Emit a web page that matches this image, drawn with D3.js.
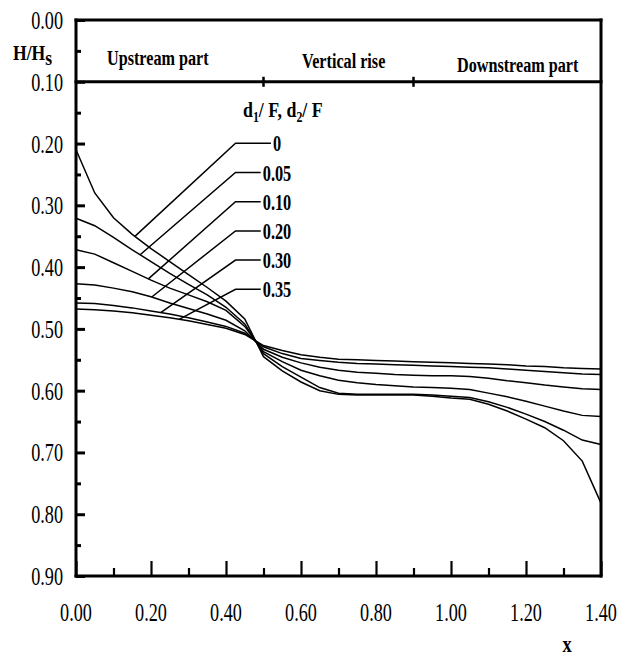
<!DOCTYPE html>
<html>
<head>
<meta charset="utf-8">
<script src="https://cdn.jsdelivr.net/npm/d3@7/dist/d3.min.js"></script>
<style>
  body { margin: 0; background: #fff; }
  svg { display: block; }
  text { font-family: "Liberation Serif", "Times New Roman", serif; fill: #000; }
</style>
</head>
<body>
<svg id="chart" width="617" height="659"></svg>
<script>
// Streamwise position along the channel
const xValues = [0, 0.05, 0.10, 0.15, 0.20, 0.25, 0.30, 0.35, 0.40, 0.45, 0.50, 0.55, 0.60, 0.65, 0.70,
                 0.75, 0.80, 0.85, 0.90, 0.95, 1.00, 1.05, 1.10, 1.15, 1.20, 1.25, 1.30, 1.35, 1.40];

// Relative depth H/Hs for each d1/F, d2/F ratio
const depth000 = [0.210, 0.280, 0.320, 0.347, 0.370, 0.391, 0.412, 0.433, 0.455, 0.484, 0.545, 0.568, 0.586, 0.600, 0.606,
                  0.607, 0.607, 0.607, 0.607, 0.609, 0.612, 0.614, 0.622, 0.633, 0.646, 0.660, 0.681, 0.714, 0.782];
const depth005 = [0.321, 0.333, 0.352, 0.372, 0.391, 0.410, 0.428, 0.445, 0.465, 0.492, 0.540, 0.561, 0.578, 0.595, 0.604,
                  0.606, 0.606, 0.606, 0.606, 0.607, 0.609, 0.611, 0.618, 0.627, 0.638, 0.650, 0.664, 0.680, 0.687];
const depth010 = [0.372, 0.379, 0.393, 0.407, 0.421, 0.434, 0.445, 0.456, 0.470, 0.496, 0.537, 0.553, 0.567, 0.576, 0.583,
                  0.587, 0.590, 0.592, 0.594, 0.595, 0.596, 0.598, 0.604, 0.610, 0.617, 0.625, 0.633, 0.640, 0.642];
const depth020 = [0.427, 0.429, 0.434, 0.440, 0.448, 0.458, 0.467, 0.476, 0.486, 0.503, 0.533, 0.546, 0.555, 0.562, 0.567,
                  0.570, 0.572, 0.574, 0.575, 0.576, 0.576, 0.577, 0.580, 0.584, 0.587, 0.591, 0.594, 0.597, 0.598];
const depth030 = [0.458, 0.459, 0.462, 0.466, 0.471, 0.476, 0.482, 0.489, 0.496, 0.507, 0.529, 0.540, 0.548, 0.551, 0.554,
                  0.556, 0.557, 0.558, 0.559, 0.560, 0.561, 0.562, 0.563, 0.565, 0.567, 0.569, 0.571, 0.573, 0.574];
const depth035 = [0.468, 0.469, 0.471, 0.474, 0.478, 0.482, 0.487, 0.493, 0.499, 0.509, 0.527, 0.535, 0.542, 0.546, 0.549,
                  0.550, 0.551, 0.552, 0.553, 0.554, 0.555, 0.556, 0.557, 0.558, 0.560, 0.561, 0.563, 0.564, 0.565];

const seriesLabels = ["0", "0.05", "0.10", "0.20", "0.30", "0.35"];
const seriesDepths = [depth000, depth005, depth010, depth020, depth030, depth035];
// Position along x where each label's leader line meets its curve
const leaderAnchorX = [0.157, 0.171, 0.193, 0.202, 0.226, 0.275];

const xTickLabels = ["0.00", "0.20", "0.40", "0.60", "0.80", "1.00", "1.20", "1.40"];
const yTickLabels = ["0.00", "0.10", "0.20", "0.30", "0.40", "0.50", "0.60", "0.70", "0.80", "0.90"];

const sectionNames = ["Upstream part", "Vertical rise", "Downstream part"];
const sectionBreaks = [0.5, 0.9];
const headerDepth = 0.10;

const svg = d3.select("#chart");
const x = d3.scaleLinear().domain([0, 1.4]).range([76, 601]);
const y = d3.scaleLinear().domain([0, 0.9]).range([20, 576]);

// Condensed serif text (the typeface is narrower than Times)
function label(g, str, px, py, size, opts = {}) {
  const sx = opts.sx ?? 0.7;
  const t = g.append("text")
    .attr("transform", `translate(${px},${py}) scale(${sx},1)`)
    .attr("font-size", size)
    .attr("font-weight", opts.bold ? "bold" : "normal")
    .attr("text-anchor", opts.anchor || "start")
    .text(str);
  return t;
}

const axes = svg.append("g");

// y ticks, pointing into the plot
const yMajor = d3.range(0, 10).map(i => i / 10);
const yMinor = d3.range(0, 9).map(i => i / 10 + 0.05);
axes.append("g").attr("transform", `translate(${x(0)},0)`)
  .call(d3.axisRight(y).tickValues(yMajor).tickSize(9).tickFormat(""))
  .call(g => g.select(".domain").remove())
  .call(g => g.selectAll("line").attr("stroke-width", 3));
axes.append("g").attr("transform", `translate(${x(0)},0)`)
  .call(d3.axisRight(y).tickValues(yMinor).tickSize(5).tickFormat(""))
  .call(g => g.select(".domain").remove())
  .call(g => g.selectAll("line").attr("stroke-width", 3));

// x ticks, pointing up into the plot
const xMajor = d3.range(0, 8).map(i => i * 0.2);
const xMinor = d3.range(0, 7).map(i => i * 0.2 + 0.1);
axes.append("g").attr("transform", `translate(0,${y(0.9)})`)
  .call(d3.axisTop(x).tickValues(xMajor).tickSize(15).tickFormat(""))
  .call(g => g.select(".domain").remove())
  .call(g => g.selectAll("line").attr("stroke-width", 2.2));
axes.append("g").attr("transform", `translate(0,${y(0.9)})`)
  .call(d3.axisTop(x).tickValues(xMinor).tickSize(8).tickFormat(""))
  .call(g => g.select(".domain").remove())
  .call(g => g.selectAll("line").attr("stroke-width", 2.2));

// frame and header band separator
const frame = axes.append("g").attr("stroke", "#000").attr("stroke-width", 3).attr("stroke-linecap", "square");
frame.append("line").attr("x1", x(0)).attr("x2", x(0)).attr("y1", y(0)).attr("y2", y(0.9));
frame.append("line").attr("x1", x(0)).attr("x2", x(1.4)).attr("y1", y(0.9)).attr("y2", y(0.9));
frame.append("line").attr("x1", x(0)).attr("x2", x(1.4)).attr("y1", y(0)).attr("y2", y(0));
frame.append("line").attr("x1", x(1.4)).attr("x2", x(1.4)).attr("y1", y(0)).attr("y2", y(0.9));
frame.append("line").attr("x1", x(0)).attr("x2", x(1.4)).attr("y1", y(headerDepth)).attr("y2", y(headerDepth));
sectionBreaks.forEach(b => {
  axes.append("line").attr("x1", x(b)).attr("x2", x(b))
    .attr("y1", y(headerDepth) - 5).attr("y2", y(headerDepth) + 5)
    .attr("stroke", "#000").attr("stroke-width", 2.5);
});

// tick labels
const tl = svg.append("g");
yTickLabels.forEach((s, i) => label(tl, s, 63, y(yMajor[i]) + 9, 26, { anchor: "end" }));
xTickLabels.forEach((s, i) => label(tl, s, x(xMajor[i]), 621, 26, { anchor: "middle" }));

// axis titles
const yTitle = label(tl, "H/H", 13, 60, 22, { bold: true, sx: 0.8 });
yTitle.append("tspan").attr("dy", 5).text("s");
label(tl, "x", 567, 652, 23, { bold: true, anchor: "middle", sx: 0.8 });

// section labels in the header band
label(tl, sectionNames[0], 107, 65, 21, { bold: true, sx: 0.77 });
label(tl, sectionNames[1], 302, 68, 21, { bold: true, sx: 0.77 });
label(tl, sectionNames[2], 457, 72, 21, { bold: true, sx: 0.77 });

// curves
const line = d3.line().x(d => x(d[0])).y(d => y(d[1])).curve(d3.curveLinear);
const curves = svg.append("g").attr("fill", "none").attr("stroke", "#000").attr("stroke-width", 1.5);
seriesDepths.forEach(vals => {
  curves.append("path").attr("d", line(xValues.map((xv, i) => [xv, vals[i]])));
});

// legend with leader lines
const lg = svg.append("g");
const legTitle = label(lg, "d", 243, 117, 21, { bold: true, sx: 0.85 });
legTitle.append("tspan").attr("dy", 5).attr("font-size", 14).text("1");
legTitle.append("tspan").attr("dy", -5).text("/ F, d");
legTitle.append("tspan").attr("dy", 5).attr("font-size", 14).text("2");
legTitle.append("tspan").attr("dy", -5).text("/ F");

const rowTop = 143.3, rowStep = 29.2, elbowX = 235.5, labelCx = 277;
seriesLabels.forEach((s, i) => {
  const ry = rowTop + i * rowStep;
  const t = label(lg, s, labelCx, ry + 8, 24, { bold: true, anchor: "middle", sx: 0.68 });
  const w = t.node().getComputedTextLength() * 0.68;
  const endX = labelCx - w / 2 - 2;
  const ax = leaderAnchorX[i];
  const ay = d3.scaleLinear().domain(xValues).range(seriesDepths[i])(ax);
  lg.append("polyline")
    .attr("points", `${x(ax)},${y(ay)} ${elbowX},${ry} ${endX},${ry}`)
    .attr("fill", "none").attr("stroke", "#000").attr("stroke-width", 1.5);
});
</script>
</body>
</html>
